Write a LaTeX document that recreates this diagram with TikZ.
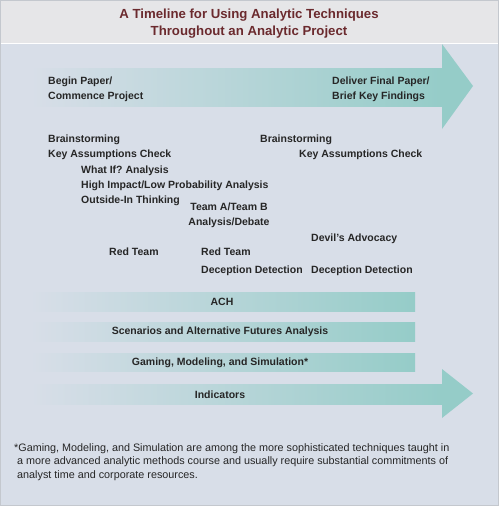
\documentclass[tikz,border=0pt]{standalone}
\usepackage{fontspec}
\setmainfont{Liberation Sans}
\usepackage{xcolor}
\usepackage{tikz}
\definecolor{tlpanel}{HTML}{D8DEE8}
\definecolor{tlhead}{HTML}{E6E6E8}
\definecolor{tlframe}{HTML}{C4C8CE}
\definecolor{tlteal}{HTML}{95CCC8}
\definecolor{tltitle}{HTML}{6B2A2E}
\definecolor{tltext}{HTML}{262626}
\usetikzlibrary{positioning}
\frenchspacing

\begin{document}
\begin{tikzpicture}[x=1pt, y=-1pt,
  lbl/.style={anchor=west, inner sep=0pt, text=tltext, align=left, font=\fontsize{10.5}{15}\selectfont\bfseries},
  barlbl/.style={inner sep=0pt, text=tltext, font=\fontsize{10.5}{12}\selectfont\bfseries},
  fadebar/.style={left color=tlpanel, right color=tlteal}]
\useasboundingbox (0,0) rectangle (499,506);

% Draw title band and panel
\fill[tlhead] (0,0) rectangle (499,43);
\fill[tlpanel] (0,44) rectangle (499,506);
\draw[tlframe, line width=0.8pt] (0.4,0.4) rectangle (498.6,505.6);
\node[text=tltitle, align=center, font=\fontsize{13.2}{17}\selectfont\bfseries] (title) at (249,23.5)
  {A Timeline for Using Analytic Techniques\\Throughout an Analytic Project};

% Draw the project arrow
\shade[fadebar] (30,68) rectangle (443,106);
\fill[tlteal] (442,44) -- (473,86) -- (442,129) -- cycle;
\node[lbl] (begin) at (48,89.5) {Begin Paper/\\Commence Project};
\node[lbl] (deliver) at (332,89.5) {Deliver Final Paper/\\Brief Key Findings};

% Draw technique labels
\node[lbl] (brainA) at (48,140) {Brainstorming};
\node[lbl] (kacA) at (48,155) {Key Assumptions Check};
\node[lbl] (whatif) at (81,171) {What If? Analysis};
\node[lbl] (hilp) at (81,186) {High Impact/Low Probability Analysis};
\node[lbl] (outin) at (81,201) {Outside-In Thinking};
\node[lbl, anchor=center, align=center] (teamab) at (229,215) {Team A/Team B\\Analysis/Debate};
\node[lbl] (brainB) at (260,140) {Brainstorming};
\node[lbl] (kacB) at (299,155) {Key Assumptions Check};
\node[lbl] (devil) at (311,239) {Devil's Advocacy};
\node[lbl] (redA) at (109,252) {Red Team};
\node[lbl] (redB) at (201,252) {Red Team};
\node[lbl] (decA) at (201,271) {Deception Detection};
\node[lbl] (decB) at (311,271) {Deception Detection};

% Draw the running bars
\shade[fadebar] (30,292) rectangle (415,311);
\node[barlbl] (ach) at (222,302) {ACH};
\shade[fadebar] (30,322) rectangle (415,341);
\node[barlbl] (scen) at (220,332) {Scenarios and Alternative Futures Analysis};
\shade[fadebar] (30,353) rectangle (415,371);
\node[barlbl] (gaming) at (220,362.5) {Gaming, Modeling, and Simulation*};
\shade[fadebar] (30,384) rectangle (443,404);
\fill[tlteal] (442,369) -- (473,393.5) -- (442,418) -- cycle;
\node[barlbl] (indic) at (220,395) {Indicators};

% Footnote
\node[anchor=north west, inner sep=0pt, text=tltext, align=left, font=\fontsize{10.8}{13.5}\selectfont] (note) at (14,443)
  {*Gaming, Modeling, and Simulation are among the more sophisticated techniques taught in\\
  \hspace*{3pt}a more advanced analytic methods course and usually require substantial commitments of\\
  \hspace*{3pt}analyst time and corporate resources.};
\end{tikzpicture}
\end{document}
